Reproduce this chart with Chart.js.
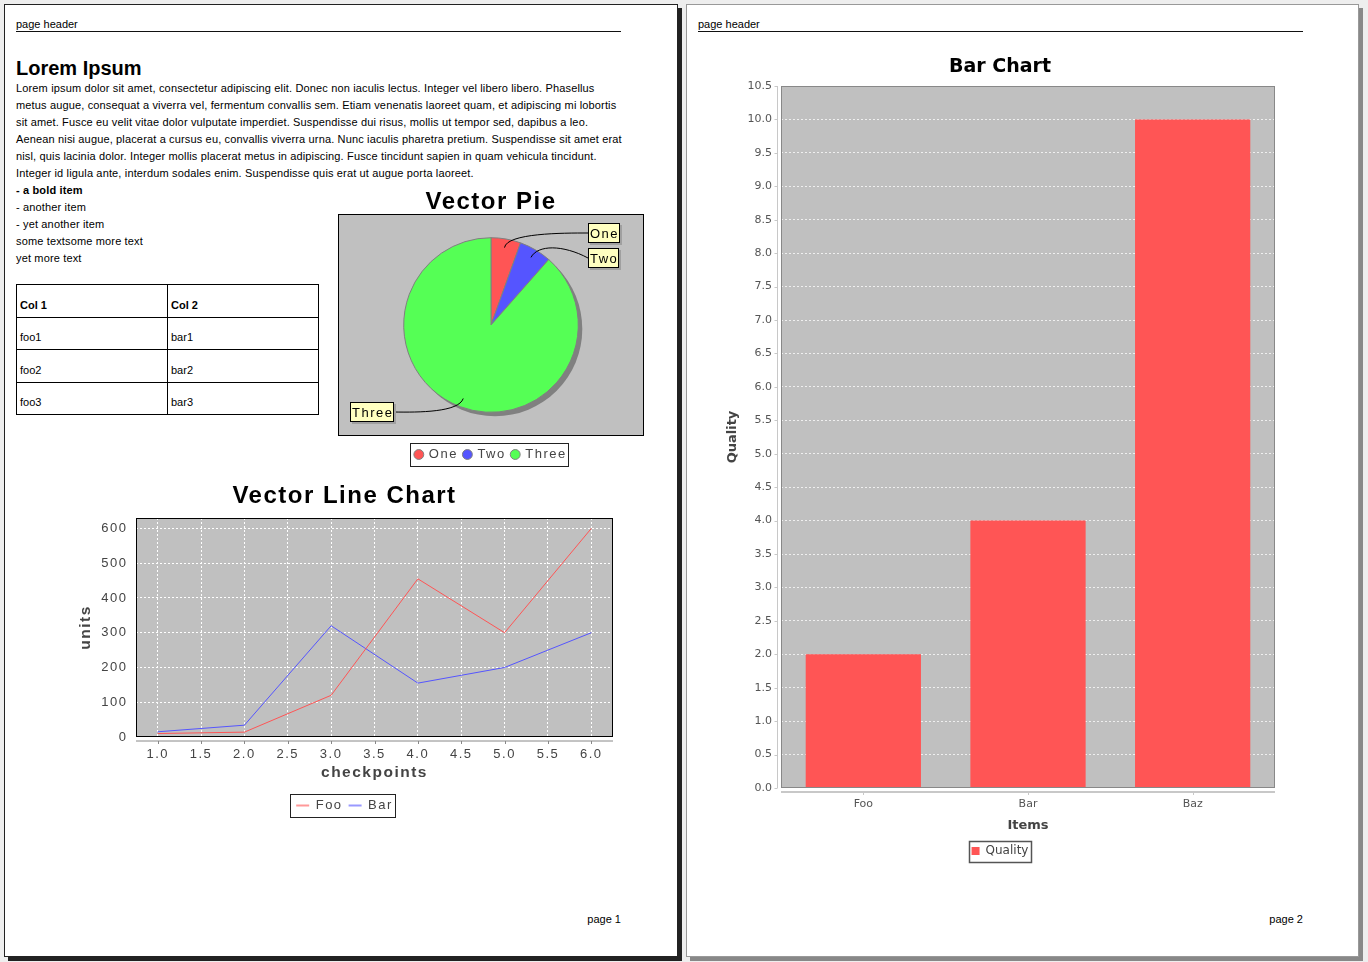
<!DOCTYPE html>
<html>
<head>
<meta charset="utf-8">
<title>Report pages</title>
<script src="https://cdn.jsdelivr.net/npm/chart.js@4.4.1/dist/chart.umd.min.js"></script>
<style>
  html, body { margin: 0; padding: 0; }
  body { width: 1368px; height: 962px; background: #eeeeee; position: relative; overflow: hidden;
         font-family: 'Liberation Sans', Arial, sans-serif; color: #000; }
  .page { position: absolute; top: 4px; height: 953px; background: #fff; box-sizing: border-box; }
  #page1 { left: 4px; width: 674px; border: 1px solid #222; box-shadow: 4px 4px 0 #222; }
  #page2 { left: 686px; width: 673px; border: 1px solid #999; box-shadow: 4px 4px 0 #888; }
  .abs { position: absolute; }
  .small { font-size: 11px; line-height: 13px; white-space: nowrap; }
  .rule { height: 0; border-top: 1.5px solid #111; width: 605px; top: 31px; }
  .foot { width: 80px; text-align: right; top: 913px; }
  #title1 { left: 16px; top: 56px; font-size: 20px; line-height: 24px; font-weight: bold; margin: 0; }
  #bodyText { left: 16px; top: 80px; font-size: 11px; line-height: 17px; white-space: nowrap; letter-spacing: 0.15px; }
  #tbl { left: 16px; top: 284px; width: 303px; height: 131px; border-collapse: collapse;
         border: 1.5px solid #000; table-layout: fixed; font-size: 11px; }
  #tbl td { border: 1px solid #000; vertical-align: bottom; padding: 0 3px 5px; line-height: 13px; }
  canvas { position: absolute; }
</style>
</head>
<body>
<div class="page" id="page1"></div>
<div class="page" id="page2"></div>

<div class="abs small" style="left:16px; top:18px;">page header</div>
<div class="abs rule" style="left:16px;"></div>
<h1 class="abs" id="title1">Lorem Ipsum</h1>
<div class="abs" id="bodyText">
Lorem ipsum dolor sit amet, consectetur adipiscing elit. Donec non iaculis lectus. Integer vel libero libero. Phasellus<br>
metus augue, consequat a viverra vel, fermentum convallis sem. Etiam venenatis laoreet quam, et adipiscing mi lobortis<br>
sit amet. Fusce eu velit vitae dolor vulputate imperdiet. Suspendisse dui risus, mollis ut tempor sed, dapibus a leo.<br>
Aenean nisi augue, placerat a cursus eu, convallis viverra urna. Nunc iaculis pharetra pretium. Suspendisse sit amet erat<br>
nisl, quis lacinia dolor. Integer mollis placerat metus in adipiscing. Fusce tincidunt sapien in quam vehicula tincidunt.<br>
Integer id ligula ante, interdum sodales enim. Suspendisse quis erat ut augue porta laoreet.<br>
<b>- a bold item</b><br>
- another item<br>
- yet another item<br>
some textsome more text<br>
yet more text
</div>
<table class="abs" id="tbl">
  <tr><td><b>Col 1</b></td><td><b>Col 2</b></td></tr>
  <tr><td>foo1</td><td>bar1</td></tr>
  <tr><td>foo2</td><td>bar2</td></tr>
  <tr><td>foo3</td><td>bar3</td></tr>
</table>
<div class="abs small foot" style="left:541px;">page 1</div>

<div class="abs small" style="left:698px; top:18px;">page header</div>
<div class="abs rule" style="left:698px;"></div>
<div class="abs small foot" style="left:1223px;">page 2</div>

<canvas id="pieChart" width="330" height="283" style="left:330px; top:188px;"></canvas>
<canvas id="lineChart" width="580" height="342" style="left:60px; top:480px;"></canvas>
<canvas id="barChart" width="620" height="822" style="left:690px; top:45px;"></canvas>

<script>
'use strict';

//Vector Pie data
var pieLabels = ['One', 'Two', 'Three'];
var pieValues = [5.5, 6, 88.5];
var pieColors = ['#FF5555', '#5555FF', '#55FF55'];

//Vector Line Chart data
var checkpoints = [1, 2, 3, 4, 5, 6];
var fooUnits = [10, 14, 120, 455, 300, 600];
var barUnits = [15, 34, 320, 155, 200, 300];
var checkpointTicks = [1.0, 1.5, 2.0, 2.5, 3.0, 3.5, 4.0, 4.5, 5.0, 5.5, 6.0];
var checkpointTickLabels = ['1.0', '1.5', '2.0', '2.5', '3.0', '3.5', '4.0', '4.5', '5.0', '5.5', '6.0'];
var unitTicks = [0, 100, 200, 300, 400, 500, 600];

//Bar Chart data
var itemNames = ['Foo', 'Bar', 'Baz'];
var qualityValues = [2, 4, 10];
var qualityTicks = [0, 0.5, 1.0, 1.5, 2.0, 2.5, 3.0, 3.5, 4.0, 4.5, 5.0, 5.5, 6.0, 6.5, 7.0, 7.5, 8.0, 8.5, 9.0, 9.5, 10.0, 10.5];
var qualityTickLabels = ['0.0', '0.5', '1.0', '1.5', '2.0', '2.5', '3.0', '3.5', '4.0', '4.5', '5.0', '5.5', '6.0', '6.5', '7.0', '7.5', '8.0', '8.5', '9.0', '9.5', '10.0', '10.5'];

var page1Font = "'Liberation Sans', Arial, sans-serif";
var page2Font = "'DejaVu Sans', sans-serif";
var lineLegendColors = ['#FF9999', '#9999FF'];
Chart.defaults.font.family = page1Font;

//the page 1 charts have widely spaced letters
var letterSpacing = {
  id: 'letterSpacing',
  beforeLayout: function (chart, args, opts) { chart.ctx.letterSpacing = opts.px; },
  beforeDraw: function (chart, args, opts) { chart.ctx.letterSpacing = opts.px; }
};

//gray plot background with an outline
var plotFrame = {
  id: 'plotFrame',
  beforeDraw: function (chart, args, opts) {
    var a = chart.chartArea;
    var ctx = chart.ctx;
    ctx.save();
    ctx.fillStyle = opts.fill;
    ctx.fillRect(a.left, a.top, a.right - a.left, a.bottom - a.top);
    ctx.restore();
  },
  afterDraw: function (chart, args, opts) {
    var a = chart.chartArea;
    var ctx = chart.ctx;
    ctx.save();
    ctx.strokeStyle = opts.stroke;
    ctx.lineWidth = 1;
    ctx.strokeRect(Math.round(a.left) + 0.5, Math.round(a.top) + 0.5, Math.round(a.right - a.left) - 1, Math.round(a.bottom - a.top) - 1);
    ctx.restore();
  }
};

//box drawn round the legend items
var legendFrame = {
  id: 'legendFrame',
  afterDraw: function (chart, args, opts) {
    var lg = chart.legend;
    var labelOpts = lg.options.labels;
    var p = labelOpts.padding;
    var lineW = lg.lineWidths[0];
    var x0 = (lg.left + p + lg.right - lineW) / 2;
    var x1 = x0 + lineW - p;
    var y0 = lg.top + lg._computeTitleHeight() + p;
    var h = Math.max(labelOpts.font.size, labelOpts.boxHeight);
    var ctx = chart.ctx;
    ctx.save();
    ctx.strokeStyle = opts.color;
    ctx.lineWidth = opts.width;
    ctx.strokeRect(Math.round(x0 - opts.padLeft) + 0.5, Math.round(y0 - opts.padY) + 0.5,
      Math.round(x1 - x0 + opts.padLeft + opts.padRight), Math.round(h + 2 * opts.padY));
    ctx.restore();
  }
};

//axis lines sitting a few pixels away from the plot, with small tick marks
var axisLines = {
  id: 'axisLines',
  afterDraw: function (chart, args, opts) {
    var a = chart.chartArea;
    var ctx = chart.ctx;
    var i, px;
    ctx.save();
    ctx.strokeStyle = opts.color;
    if (opts.x) {
      var yLine = a.bottom + opts.gap;
      ctx.lineWidth = opts.xWidth;
      ctx.beginPath();
      ctx.moveTo(a.left, yLine);
      ctx.lineTo(a.right, yLine);
      ctx.stroke();
      ctx.lineWidth = 1;
      ctx.beginPath();
      for (i = 0; i < chart.scales.x.ticks.length; i++) {
        px = Math.round(chart.scales.x.getPixelForTick(i)) + 0.5;
        ctx.moveTo(px, yLine);
        ctx.lineTo(px, yLine + 3);
      }
      ctx.stroke();
    }
    if (opts.y) {
      var xLine = Math.round(a.left - opts.gap) + 0.5;
      ctx.lineWidth = 1;
      ctx.beginPath();
      ctx.moveTo(xLine, a.top);
      ctx.lineTo(xLine, a.bottom);
      for (i = 0; i < chart.scales.y.ticks.length; i++) {
        px = Math.round(chart.scales.y.getPixelForTick(i)) + 0.5;
        ctx.moveTo(xLine, px);
        ctx.lineTo(xLine - 3, px);
      }
      ctx.stroke();
    }
    ctx.restore();
  }
};

//drop shadow under the pie
var pieShadow = {
  id: 'pieShadow',
  beforeDatasetsDraw: function (chart, args, opts) {
    var arc = chart.getDatasetMeta(0).data[0];
    var ctx = chart.ctx;
    ctx.save();
    ctx.fillStyle = opts.color;
    ctx.beginPath();
    ctx.arc(arc.x + opts.offset, arc.y + opts.offset, arc.outerRadius, 0, Math.PI * 2);
    ctx.fill();
    ctx.restore();
  }
};

//yellow label boxes linked to the slices with curved lines
var pieCallouts = {
  id: 'pieCallouts',
  afterDatasetsDraw: function (chart, args, opts) {
    var ctx = chart.ctx;
    var arcs = chart.getDatasetMeta(0).data;
    var labels = chart.data.labels;
    var placed = [];
    var bh = opts.boxHeight;
    ctx.save();
    ctx.font = opts.font;
    ctx.textBaseline = 'middle';
    ctx.textAlign = 'left';
    for (var i = 0; i < arcs.length; i++) {
      var arc = arcs[i];
      var mid = (arc.startAngle + arc.endAngle) / 2;
      var r = arc.outerRadius;
      var cos = Math.cos(mid);
      var sin = Math.sin(mid);
      var right = cos >= 0;
      var baseY = arc.y + r * 1.07 * sin;
      var y = baseY;
      for (var j = 0; j < placed.length; j++) {
        if (placed[j].right === right && Math.abs(placed[j].y - y) < bh + 5) {
          y = placed[j].y + bh + 5;
        }
      }
      placed.push({right: right, y: y});

      var w = Math.round(ctx.measureText(labels[i]).width + 2.5);
      var bx = Math.round(right ? arc.x + r + 10 : arc.x - r - 10 - w);
      var by = Math.round(y - bh / 2);
      var ex = right ? bx : bx + w;

      //leader line
      ctx.strokeStyle = '#000';
      ctx.lineWidth = 1;
      ctx.beginPath();
      ctx.moveTo(arc.x + r * 0.9 * cos, arc.y + r * 0.9 * sin);
      ctx.bezierCurveTo(arc.x + r * 1.05 * cos, baseY, ex + (right ? -25 : 25), baseY, ex, by + bh / 2);
      ctx.stroke();

      //box with shadow
      ctx.fillStyle = opts.shadow;
      ctx.fillRect(bx + 2, by + 2, w, bh);
      ctx.fillStyle = opts.fill;
      ctx.fillRect(bx, by, w, bh);
      ctx.strokeRect(bx + 0.5, by + 0.5, w - 1, bh - 1);
      ctx.fillStyle = '#000';
      ctx.fillText(labels[i], bx + 2, by + bh / 2 + 1);
    }
    ctx.restore();
  }
};

//Vector Pie
new Chart(document.getElementById('pieChart'), {
  type: 'pie',
  data: {
    labels: pieLabels,
    datasets: [{
      data: pieValues,
      backgroundColor: pieColors,
      borderColor: '#808080',
      borderWidth: 1,
      radius: '79%'
    }]
  },
  options: {
    responsive: false,
    animation: false,
    layout: { padding: { left: 8, right: 16, top: 0, bottom: 0 } },
    plugins: {
      title: { display: true, text: 'Vector Pie', color: '#000', font: { size: 24, weight: 'bold', lineHeight: 1 }, padding: { top: 2, bottom: 0 } },
      legend: {
        position: 'bottom',
        title: { display: true, text: '', font: { size: 6, lineHeight: 1 }, padding: 0 },
        labels: { usePointStyle: true, pointStyle: 'circle', boxWidth: 7, boxHeight: 7, padding: 6, color: '#444', font: { size: 13 } }
      },
      tooltip: { enabled: false },
      letterSpacing: { px: '1.5px' },
      plotFrame: { fill: '#C0C0C0', stroke: '#000' },
      legendFrame: { color: '#222', width: 1, padLeft: 5, padRight: 2, padY: 5 },
      pieShadow: { color: '#808080', offset: 4 },
      pieCallouts: { font: '13px ' + page1Font, boxHeight: 20, fill: '#FFFFC0', shadow: '#A0A0A0' }
    }
  },
  plugins: [letterSpacing, plotFrame, legendFrame, pieShadow, pieCallouts]
});

//Vector Line Chart
new Chart(document.getElementById('lineChart'), {
  type: 'line',
  data: {
    datasets: [
      {
        label: 'Foo',
        data: checkpoints.map(function (c, i) { return { x: c, y: fooUnits[i] }; }),
        borderColor: '#FF5555',
        backgroundColor: '#FF5555',
        borderWidth: 1,
        pointRadius: 0,
        pointStyle: 'line'
      },
      {
        label: 'Bar',
        data: checkpoints.map(function (c, i) { return { x: c, y: barUnits[i] }; }),
        borderColor: '#5555FF',
        backgroundColor: '#5555FF',
        borderWidth: 1,
        pointRadius: 0,
        pointStyle: 'line'
      }
    ]
  },
  options: {
    responsive: false,
    animation: false,
    layout: { padding: { left: 16, right: 27, top: 0, bottom: 0 } },
    scales: {
      x: {
        type: 'linear',
        min: 0.75,
        max: 6.25,
        afterBuildTicks: function (axis) { axis.ticks = checkpointTicks.map(function (v) { return { value: v }; }); },
        afterFit: function (axis) { axis.height = 45; },
        ticks: { autoSkip: false, maxRotation: 0, padding: 10, color: '#444', font: { size: 13 },
          callback: function (v, i) { return checkpointTickLabels[i]; } },
        grid: { color: '#ffffff', drawTicks: false },
        border: { display: false, dash: [2, 2] },
        title: { display: true, text: 'checkpoints', color: '#444', font: { size: 15.5, weight: 'bold' }, padding: 0 }
      },
      y: {
        min: 0,
        max: 630,
        afterBuildTicks: function (axis) { axis.ticks = unitTicks.map(function (v) { return { value: v }; }); },
        afterFit: function (axis) { axis.width = 60; },
        ticks: { padding: 8.5, color: '#444', font: { size: 13 } },
        grid: { color: '#ffffff', drawTicks: false },
        border: { display: false, dash: [2, 2] },
        title: { display: true, text: 'units', color: '#444', font: { size: 15.5, weight: 'bold' }, padding: 0 }
      }
    },
    plugins: {
      title: { display: true, text: 'Vector Line Chart', color: '#000', font: { size: 24, weight: 'bold', lineHeight: 1 }, padding: { top: 4, bottom: 10 } },
      legend: {
        position: 'bottom',
        title: { display: true, text: '', font: { size: 11, lineHeight: 1 }, padding: 0 },
        labels: {
          usePointStyle: true, pointStyleWidth: 13, boxHeight: 7, padding: 6, color: '#444', font: { size: 13 },
          //the legend shows softer, thicker line samples
          generateLabels: function (chart) {
            var items = Chart.defaults.plugins.legend.labels.generateLabels(chart);
            items.forEach(function (item, i) {
              item.strokeStyle = lineLegendColors[i];
              item.lineWidth = 2;
            });
            return items;
          }
        }
      },
      tooltip: { enabled: false },
      letterSpacing: { px: '1.5px' },
      plotFrame: { fill: '#C0C0C0', stroke: '#000' },
      legendFrame: { color: '#222', width: 1, padLeft: 6, padRight: 2, padY: 5 },
      axisLines: { x: true, y: false, gap: 4, color: '#888888', xWidth: 1 }
    }
  },
  plugins: [letterSpacing, plotFrame, legendFrame, axisLines]
});

//Bar Chart on page 2
new Chart(document.getElementById('barChart'), {
  type: 'bar',
  data: {
    labels: itemNames,
    datasets: [{
      label: 'Quality',
      data: qualityValues,
      backgroundColor: '#FF5555',
      borderWidth: 0,
      barPercentage: 0.7,
      categoryPercentage: 1
    }]
  },
  options: {
    responsive: false,
    animation: false,
    layout: { padding: { left: 35, right: 35, top: 0, bottom: 0 } },
    scales: {
      x: {
        afterFit: function (axis) { axis.height = 45; },
        ticks: { padding: 10, color: '#555', font: { family: page2Font, size: 11 } },
        grid: { display: false, drawTicks: false },
        border: { display: false },
        title: { display: true, text: 'Items', color: '#444', font: { family: page2Font, size: 13, weight: 'bold' }, padding: 0 }
      },
      y: {
        min: 0,
        max: 10.5,
        afterBuildTicks: function (axis) { axis.ticks = qualityTicks.map(function (v) { return { value: v }; }); },
        afterFit: function (axis) { axis.width = 56; },
        ticks: { padding: 9, color: '#555', font: { family: page2Font, size: 11 },
          callback: function (v, i) { return qualityTickLabels[i]; } },
        grid: { color: 'rgba(255,255,255,0.75)', drawTicks: false },
        border: { display: false, dash: [2, 2] },
        title: { display: true, text: 'Quality', color: '#444', font: { family: page2Font, size: 13, weight: 'bold' }, padding: 0 }
      }
    },
    plugins: {
      title: { display: true, text: 'Bar Chart', color: '#000', font: { family: page2Font, size: 19, weight: 'bold' }, padding: { top: 10.6, bottom: 7.6 } },
      legend: {
        position: 'bottom',
        title: { display: true, text: '', font: { size: 8, lineHeight: 1 }, padding: 0 },
        labels: { boxWidth: 8, boxHeight: 8, padding: 4, color: '#444', font: { family: page2Font, size: 12 } }
      },
      tooltip: { enabled: false },
      plotFrame: { fill: '#C0C0C0', stroke: '#888888' },
      legendFrame: { color: '#555', width: 1.5, padLeft: 3, padRight: 2, padY: 4.5 },
      axisLines: { x: true, y: true, gap: 4, color: '#c8c8c8', xWidth: 2 }
    }
  },
  plugins: [plotFrame, legendFrame, axisLines]
});
</script>
</body>
</html>
